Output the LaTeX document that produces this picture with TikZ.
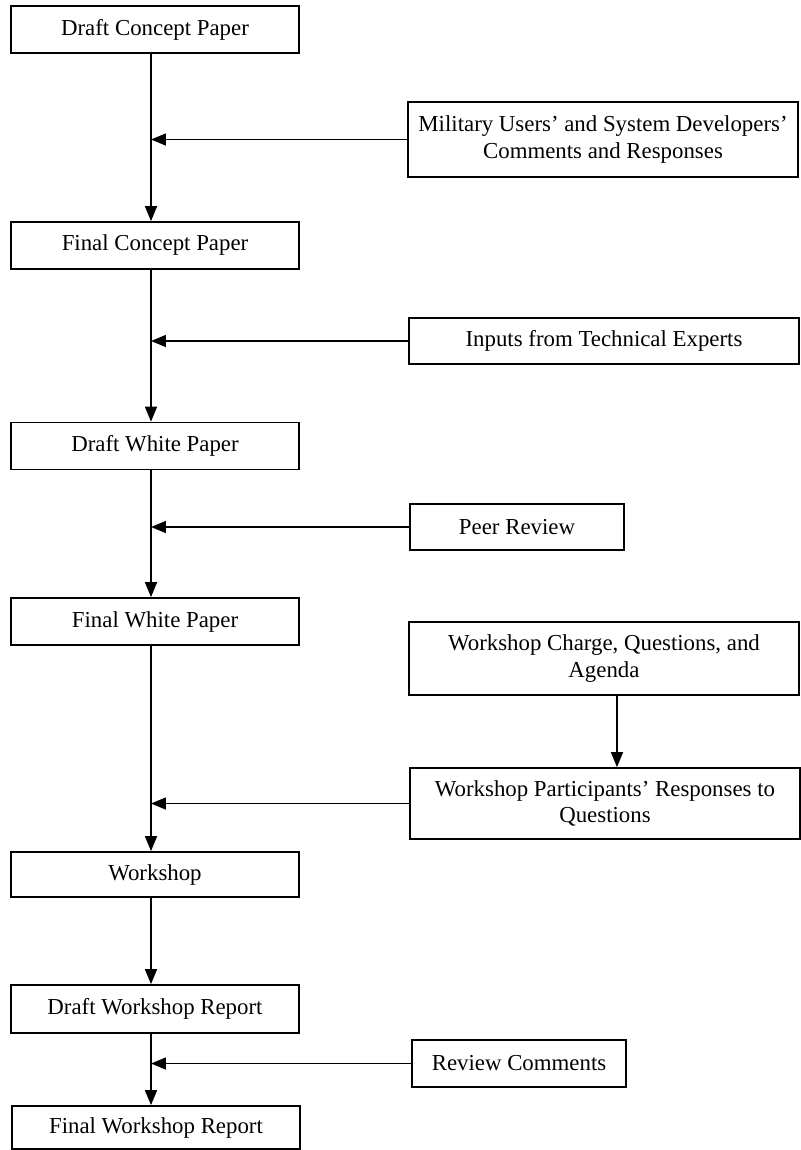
\documentclass[tikz,border=0pt]{standalone}
\usepackage{fontspec}
\setmainfont{Liberation Serif}
\usetikzlibrary{arrows.meta}

\begin{document}
\begin{tikzpicture}[x=0.02cm,y=-0.02cm,
    box/.style={draw,line width=1pt,minimum height=0.94cm,align=center,inner sep=2pt,font=\fontsize{13}{15}\selectfont},
    stagebox/.style={box,minimum width=5.76cm},
    sidebox/.style={box,minimum width=7.8cm},
    smallbox/.style={box,minimum width=4.28cm},
    flow/.style={-{Triangle[length=3mm,width=2.4mm]},line width=0.9pt}]
    \useasboundingbox (0,0) rectangle (801,1150);

    % Main stages
    \node[stagebox] (dcp) at (155,29.5) {Draft Concept Paper};
    \node[stagebox] (fcp) at (155,245.5) {Final Concept Paper};
    \node[stagebox] (dwp) at (155,446) {Draft White Paper};
    \node[stagebox] (fwp) at (155,621.5) {Final White Paper};
    \node[stagebox,minimum height=0.9cm] (ws) at (155,874.5) {Workshop};
    \node[stagebox,minimum height=0.96cm] (dwr) at (155,1009) {Draft Workshop Report};
    \node[stagebox,minimum height=0.86cm] (fwr) at (156,1127.5) {Final Workshop Report};

    % Inputs
    \node[sidebox,minimum height=1.5cm] (mil) at (603,139.5) {Military Users' and System Developers'\\Comments and Responses};
    \node[sidebox,minimum height=0.92cm] (inp) at (604,341) {Inputs from Technical Experts};
    \node[smallbox,minimum height=0.92cm] (peer) at (517,527) {Peer Review};
    \node[sidebox,minimum height=1.46cm] (chg) at (604,658.5) {Workshop Charge, Questions, and\\Agenda};
    \node[sidebox,minimum height=1.42cm] (par) at (605,803.5) {Workshop Participants' Responses to\\Questions};
    \node[smallbox] (rev) at (519,1063.5) {Review Comments};

    % Guide lines
    \coordinate (spine) at (151,0);
    \coordinate (drop) at (617,0);

    % Flow down
    \draw[flow] (dcp.south -| spine) -- (fcp.north -| spine);
    \draw[flow] (fcp.south -| spine) -- (dwp.north -| spine);
    \draw[flow] (dwp.south -| spine) -- (fwp.north -| spine);
    \draw[flow] (fwp.south -| spine) -- (ws.north -| spine);
    \draw[flow] (ws.south -| spine) -- (dwr.north -| spine);
    \draw[flow] (dwr.south -| spine) -- (fwr.north -| spine);
    \draw[flow] (chg.south -| drop) -- (par.north -| drop);

    % Feeds into the spine
    \draw[flow] (mil.west) -- (mil.west -| spine);
    \draw[flow] (inp.west) -- (inp.west -| spine);
    \draw[flow] (peer.west) -- (peer.west -| spine);
    \draw[flow] (par.west) -- (par.west -| spine);
    \draw[flow] (rev.west) -- (rev.west -| spine);
\end{tikzpicture}
\end{document}
